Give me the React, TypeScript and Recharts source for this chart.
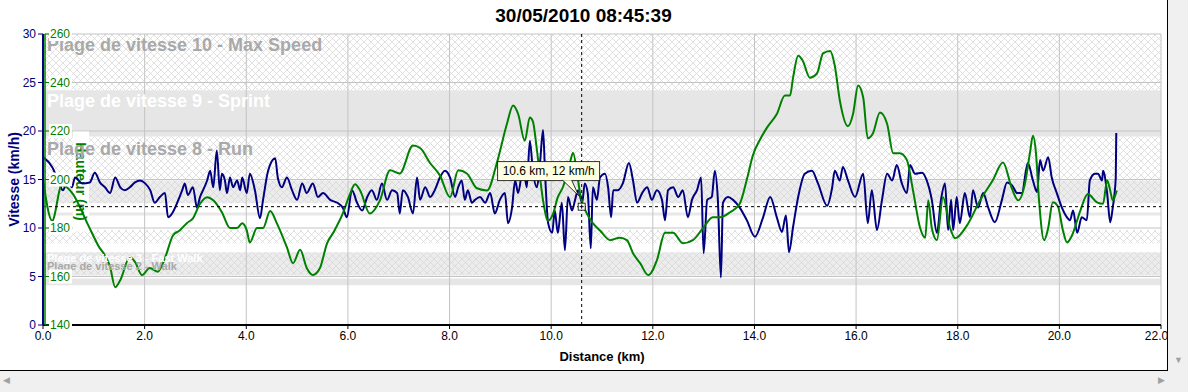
import React from 'react';
import { ComposedChart, Line, XAxis, YAxis, ReferenceArea, ReferenceLine, ReferenceDot, Text } from 'recharts';

document.body.style.margin = '0';

const FONT = '"Liberation Sans", Arial, Helvetica, sans-serif';
const NAVY = '#000080';
const GREEN = '#008000';

const title = '30/05/2010 08:45:39';
const altitudeLabel = 'Hauteur (m)';

const distanceTicks = [0, 2, 4, 6, 8, 10, 12, 14, 16, 18, 20, 22];
const speedTicks = [0, 5, 10, 15, 20, 25, 30];
const altitudeTicks = [140, 160, 180, 200, 220, 240, 260];

// [km, km/h]
const speedTrace: [number, number][] = [
  [0, 17.3], [0.18, 16.3], [0.3, 14.9], [0.39, 13.9], [0.49, 14.9], [0.57, 14.2], [0.63, 15.2], [0.77, 14.6],
  [0.92, 14.7], [1.02, 15.7], [1.12, 14.7], [1.22, 14.2], [1.32, 13.6], [1.42, 15.2], [1.52, 14.2], [1.61, 13.9],
  [1.71, 14.2], [1.81, 14.7], [1.91, 14.9], [2.01, 14.6], [2.11, 13.9], [2.2, 12.6], [2.3, 13.2], [2.4, 13.6],
  [2.46, 11.1], [2.54, 11.5], [2.64, 12.6], [2.74, 13.9], [2.79, 14.6], [2.85, 13.4], [2.95, 14.2], [3.03, 12.1],
  [3.09, 13.2], [3.15, 13.9], [3.23, 14.9], [3.29, 15.9], [3.35, 14.2], [3.42, 18.0], [3.48, 13.9], [3.52, 15.6],
  [3.58, 14.9], [3.62, 13.6], [3.68, 15.2], [3.74, 14.2], [3.82, 14.9], [3.88, 13.9], [3.92, 15.2], [4.01, 13.6],
  [4.07, 15.6], [4.17, 13.9], [4.27, 11.0], [4.33, 12.9], [4.43, 15.9], [4.57, 17.2], [4.62, 15.2], [4.7, 14.2],
  [4.8, 15.2], [4.9, 13.9], [5.0, 12.9], [5.1, 14.6], [5.19, 13.6], [5.31, 14.6], [5.41, 13.2], [5.51, 13.6],
  [5.65, 12.9], [5.79, 12.6], [5.9, 12.1], [5.98, 11.1], [6.08, 13.9], [6.18, 12.6], [6.28, 11.8], [6.38, 13.2],
  [6.47, 13.9], [6.57, 12.9], [6.67, 14.6], [6.77, 12.9], [6.87, 13.9], [6.97, 13.6], [7.02, 11.5], [7.08, 13.9],
  [7.18, 13.2], [7.28, 11.5], [7.36, 15.2], [7.42, 12.9], [7.52, 14.2], [7.62, 13.2], [7.71, 13.9], [7.81, 15.2],
  [7.91, 15.9], [8.01, 15.2], [8.11, 13.2], [8.17, 14.2], [8.24, 14.9], [8.3, 12.9], [8.36, 13.9], [8.44, 12.6],
  [8.5, 12.9], [8.6, 13.2], [8.7, 12.6], [8.8, 13.6], [8.89, 11.5], [8.99, 12.9], [9.09, 13.6], [9.15, 10.5],
  [9.23, 12.1], [9.29, 14.9], [9.35, 13.6], [9.45, 16.3], [9.52, 14.2], [9.58, 19.0], [9.64, 15.9], [9.72, 14.2],
  [9.78, 16.7], [9.84, 20.1], [9.88, 15.6], [9.94, 10.5], [10.02, 9.5], [10.07, 11.8], [10.13, 9.5], [10.21, 12.6],
  [10.27, 7.7], [10.33, 13.2], [10.41, 11.8], [10.47, 12.9], [10.53, 13.9], [10.61, 12.6], [10.66, 14.6], [10.72, 13.6],
  [10.78, 7.9], [10.82, 14.2], [10.9, 12.9], [10.96, 15.2], [11.06, 15.6], [11.12, 14.2], [11.18, 11.1], [11.22, 13.9],
  [11.31, 13.9], [11.41, 14.6], [11.53, 16.7], [11.61, 14.9], [11.69, 12.6], [11.79, 13.6], [11.89, 14.2], [11.98, 12.9],
  [12.08, 13.9], [12.18, 12.9], [12.24, 10.8], [12.3, 13.9], [12.4, 14.2], [12.5, 13.2], [12.59, 13.9], [12.69, 11.1],
  [12.77, 12.9], [12.87, 13.9], [12.95, 15.2], [13.0, 7.4], [13.07, 12.9], [13.16, 13.2], [13.22, 15.9], [13.28, 12.9],
  [13.34, 4.9], [13.38, 12.6], [13.48, 13.2], [13.58, 12.9], [13.71, 12.1], [13.85, 10.8], [14.01, 9.1], [14.17, 11.1],
  [14.31, 13.2], [14.44, 11.1], [14.54, 9.6], [14.62, 11.3], [14.68, 7.5], [14.76, 10.1], [14.86, 13.2], [14.99, 15.6],
  [15.13, 15.9], [15.25, 14.6], [15.43, 12.3], [15.53, 14.2], [15.58, 15.9], [15.68, 14.9], [15.74, 16.3], [15.84, 14.9],
  [15.98, 13.2], [16.14, 15.6], [16.23, 10.5], [16.31, 13.9], [16.41, 9.8], [16.51, 12.9], [16.61, 15.6], [16.71, 14.9],
  [16.8, 16.5], [16.9, 14.6], [17.0, 13.6], [17.06, 16.5], [17.16, 15.6], [17.3, 15.7], [17.39, 14.9], [17.49, 12.9],
  [17.59, 9.5], [17.67, 12.9], [17.75, 14.6], [17.81, 9.8], [17.87, 12.9], [17.91, 9.8], [17.98, 13.2], [18.04, 10.5],
  [18.14, 13.6], [18.24, 11.1], [18.3, 13.9], [18.4, 12.1], [18.5, 13.6], [18.6, 12.1], [18.73, 10.6], [18.87, 12.9],
  [18.97, 14.7], [19.07, 14.4], [19.17, 13.6], [19.26, 13.6], [19.38, 16.7], [19.48, 14.9], [19.56, 13.7], [19.62, 17.0],
  [19.68, 15.9], [19.78, 17.3], [19.85, 15.2], [19.95, 13.6], [20.05, 12.1], [20.15, 11.1], [20.21, 10.8], [20.27, 11.8],
  [20.35, 9.5], [20.44, 11.1], [20.54, 10.8], [20.6, 14.9], [20.7, 15.6], [20.76, 15.6], [20.84, 14.9], [20.86, 15.9],
  [20.94, 13.6], [21.0, 10.6], [21.05, 12.1], [21.11, 15.2], [21.12, 19.8],
];

// [km, m]
const altitudeTrace: [number, number][] = [
  [0, 200], [0.18, 183], [0.37, 197.6], [0.59, 194], [0.87, 182], [1.08, 173], [1.32, 164], [1.42, 155.6],
  [1.52, 158.5], [1.71, 168], [1.81, 166], [1.95, 160.6], [2.1, 163.5], [2.26, 162], [2.4, 167.6], [2.56, 177],
  [2.69, 179], [2.83, 182], [2.95, 184], [3.09, 190], [3.23, 192.7], [3.35, 191.4], [3.52, 186.5], [3.68, 180],
  [3.82, 180], [3.92, 182], [4.01, 179], [4.07, 174], [4.21, 180], [4.33, 180], [4.47, 187], [4.6, 182],
  [4.8, 172], [4.92, 165.5], [5.06, 171], [5.19, 163.5], [5.31, 160.6], [5.45, 163.5], [5.59, 173.7], [5.71, 178],
  [5.9, 186], [6.04, 194], [6.14, 198], [6.24, 195.5], [6.43, 186], [6.63, 191.4], [6.83, 203.8], [7.02, 202.5],
  [7.28, 214], [7.42, 213], [7.62, 206.7], [7.81, 201.7], [8.01, 192.7], [8.17, 203.8], [8.34, 202.5], [8.54, 196.4],
  [8.74, 195.5], [8.93, 206.7], [9.13, 223], [9.25, 230.5], [9.35, 227], [9.48, 216], [9.58, 225.6], [9.64, 224],
  [9.72, 212], [9.84, 191.4], [9.94, 183], [10.04, 186], [10.13, 192.7], [10.23, 196.8], [10.37, 207], [10.43, 211],
  [10.51, 202.5], [10.57, 194], [10.7, 186], [10.82, 182], [10.96, 179], [11.16, 175], [11.35, 176], [11.49, 175],
  [11.61, 169.6], [11.75, 165.5], [11.91, 160.6], [12.08, 166.7], [12.24, 178], [12.4, 178], [12.59, 173.7], [12.79, 175],
  [12.99, 180], [13.18, 184.4], [13.32, 184.4], [13.52, 186.5], [13.71, 190], [13.85, 200], [13.97, 210], [14.11, 216.5],
  [14.25, 221.5], [14.44, 227], [14.6, 234.6], [14.7, 234.6], [14.76, 242], [14.86, 251], [14.95, 249], [15.09, 242],
  [15.23, 243.7], [15.35, 252], [15.49, 253], [15.58, 247], [15.68, 232.6], [15.84, 222], [15.94, 227], [16.04, 238.8],
  [16.14, 233.8], [16.23, 217], [16.33, 219], [16.47, 227.6], [16.61, 223], [16.73, 210.8], [16.86, 210.8], [17.0, 208],
  [17.12, 195.5], [17.26, 180], [17.36, 176], [17.42, 191.4], [17.49, 180], [17.59, 175], [17.71, 192.7], [17.85, 180],
  [17.95, 175.8], [18.18, 181], [18.44, 191.4], [18.69, 199.7], [18.89, 207], [19.07, 196], [19.19, 191.4], [19.32, 198],
  [19.42, 210.8], [19.48, 218], [19.54, 210.8], [19.6, 191.4], [19.7, 175], [19.78, 180], [19.87, 190.6], [19.97, 189],
  [20.07, 179], [20.15, 174], [20.25, 177], [20.41, 187], [20.56, 194], [20.74, 190.6], [20.86, 190], [20.94, 199.7],
  [21.0, 195.5], [21.05, 191.4], [21.13, 195.5],
];

// speed zones, km/h
const zoneLow = [24.2, 19.4, 14.9, 12.55, 11.3, 8.4, 5.1, 4.1];
const zoneHigh = [30, 24.2, 19.4, 14.9, 11.6, 9.8, 7.5, 4.8];
const zoneFill = ['url(#hatch)', '#e6e6e6', 'url(#hatch)', 'url(#hatchGray)', '#e8e8e8', 'url(#hatch)', 'url(#hatchGray)', '#e6e6e6'];

const zoneLabels = [
  'Plage de vitesse 10 - Max Speed',
  'Plage de vitesse 9 - Sprint',
  'Plage de vitesse 8 - Run',
  'Plage de vitesse 3 - Fast Walk',
  'Plage de vitesse 2 - Walk',
];
const zoneLabelAt = [30, 24.2, 19.3, 7.75, 6.85];
const zoneLabelStyle = [
  { fill: '#a9a9a9', fontSize: 18 },
  { fill: '#ffffff', fontSize: 18 },
  { fill: '#a9a9a9', fontSize: 18 },
  { fill: '#ffffff', fontSize: 11 },
  { fill: '#a9a9a9', fontSize: 11 },
];

const cursorKm = 10.6;
const cursorKmh = 12.2;

const speedData = speedTrace.map(([km, kmh]) => ({ km, kmh }));
const altitudeData = altitudeTrace.map(([km, m]) => ({ km, m }));

const AltTick = (props: any) => {
  const { x, y, payload } = props;
  return (
    <g>
      <rect x={x} y={y - 7} width={23} height={14} fill="#fff" />
      <text x={x + 1} y={y} dy={4} fill={GREEN} fontSize={12} textAnchor="start">
        {payload.value}
      </text>
    </g>
  );
};

const AltitudeTitle = (props: any) => {
  const vb = props.viewBox;
  if (!vb) return null;
  const cx = vb.x + 38;
  const cy = vb.y + vb.height / 2 + 2;
  return (
    <g>
      <rect x={cx - 8} y={cy - 50} width={16} height={100} fill="#fff" />
      <Text
        x={cx}
        y={cy}
        angle={90}
        textAnchor="middle"
        verticalAnchor="middle"
        fill={GREEN}
        fontSize={14}
        fontWeight="bold"
      >
        {altitudeLabel}
      </Text>
    </g>
  );
};

const CursorTip = (props: any) => {
  const { cx, cy } = props;
  if (cx == null || cy == null) return null;
  const text = `${cursorKm} km, ${Math.round(cursorKmh)} km/h`;
  return (
    <g>
      <rect x={cx - 84} y={cy - 45} width={102} height={19} fill="#ffffe1" stroke="#000" strokeWidth={0.8} />
      <path
        d={`M${cx - 19},${cy - 26.4} L${cx - 3},${cy - 11} L${cx - 10},${cy - 26.4}`}
        fill="#ffffe1"
        stroke="#000"
        strokeWidth={0.8}
      />
      <text x={cx - 33} y={cy - 35.5} dy={4} textAnchor="middle" fontSize={12} fill="#000">
        {text}
      </text>
      <rect x={cx - 3.5} y={cy - 3.5} width={7} height={7} fill="#fff" stroke="#000" strokeWidth={0.8} />
      <line x1={cx - 2} x2={cx + 2} y1={cy} y2={cy} stroke="#000" strokeWidth={1} />
      <line x1={cx} x2={cx} y1={cy - 2} y2={cy + 2} stroke="#000" strokeWidth={1} />
    </g>
  );
};

export default function App() {
  return (
    <div style={{ position: 'relative', width: 1188, height: 392, background: '#f0f0f0', fontFamily: FONT, overflow: 'hidden' }}>
      <div
        style={{
          position: 'absolute', left: 0, top: 0, width: 1167, height: 370, background: '#fff',
          borderRight: '1px solid #000', borderBottom: '1px solid #000',
        }}
      >
        <ComposedChart width={1167} height={370} margin={{ top: 34, right: 6, bottom: 7, left: 0 }}>
          <defs>
            <pattern id="hatch" width="7" height="7" patternUnits="userSpaceOnUse">
              <rect width="7" height="7" fill="#ffffff" />
              <path d="M0,0 L7,7 M7,0 L0,7" stroke="#d4d4d4" strokeWidth="0.7" />
            </pattern>
            <pattern id="hatchGray" width="7" height="7" patternUnits="userSpaceOnUse">
              <rect width="7" height="7" fill="#ececec" />
              <path d="M0,0 L7,7 M7,0 L0,7" stroke="#d6d6d6" strokeWidth="0.7" />
            </pattern>
          </defs>

          {zoneLow.map((lo, i) => (
            <ReferenceArea
              key={`zone-${i}`}
              yAxisId="speed"
              y1={lo}
              y2={zoneHigh[i]}
              fill={zoneFill[i]}
              fillOpacity={1}
              stroke="none"
              ifOverflow="visible"
            />
          ))}

          {distanceTicks.slice(1).map((d) => (
            <ReferenceLine key={`gx-${d}`} yAxisId="speed" x={d} stroke="#c4c4c4" strokeWidth={1} />
          ))}
          {speedTicks.slice(1).map((s) => (
            <ReferenceLine key={`gy-${s}`} yAxisId="speed" y={s} stroke="#c4c4c4" strokeWidth={1} />
          ))}

          {zoneLabels.map((txt, i) => (
            <ReferenceLine
              key={`lbl-${i}`}
              yAxisId="speed"
              y={zoneLabelAt[i]}
              stroke="none"
              label={{
                value: txt,
                position: 'insideTopLeft',
                offset: 4,
                fill: zoneLabelStyle[i].fill,
                fontSize: zoneLabelStyle[i].fontSize,
                fontWeight: 'bold',
              }}
            />
          ))}

          <ReferenceLine yAxisId="speed" x={0} stroke="none" label={AltitudeTitle} />

          <XAxis
            dataKey="km"
            type="number"
            domain={[0, 22]}
            ticks={distanceTicks}
            allowDataOverflow
            tickFormatter={(v: number) => v.toFixed(1)}
            height={38}
            axisLine={{ stroke: '#000', strokeWidth: 2 }}
            tickLine={{ stroke: '#000' }}
            tickSize={4}
            tickMargin={2}
            tick={{ fill: '#000', fontSize: 12 }}
            label={{ value: 'Distance (km)', position: 'insideBottom', offset: 2, fill: '#000', fontSize: 13, fontWeight: 'bold' }}
          />
          <YAxis
            yAxisId="speed"
            orientation="left"
            width={43}
            domain={[0, 30]}
            ticks={speedTicks}
            allowDataOverflow
            axisLine={{ stroke: NAVY, strokeWidth: 2 }}
            tickLine={{ stroke: NAVY }}
            tickSize={5}
            tickMargin={2}
            tick={{ fill: NAVY, fontSize: 12 }}
            label={{ value: 'Vitesse (km/h)', angle: -90, position: 'center', dx: -7, fill: NAVY, fontSize: 14, fontWeight: 'bold' }}
          />
          <YAxis
            yAxisId="alt"
            orientation="left"
            mirror
            width={30}
            domain={[140, 260]}
            ticks={altitudeTicks}
            allowDataOverflow
            axisLine={{ stroke: GREEN, strokeWidth: 1.5, transform: 'translate(2,0)' }}
            tickLine={{ stroke: GREEN, transform: 'translate(2,0)' }}
            tickSize={4}
            tickMargin={2}
            tick={AltTick}
          />

          <Line
            data={speedData}
            yAxisId="speed"
            dataKey="kmh"
            type="monotone"
            stroke={NAVY}
            strokeWidth={2}
            dot={false}
            isAnimationActive={false}
          />
          <Line
            data={altitudeData}
            yAxisId="alt"
            dataKey="m"
            type="monotone"
            stroke={GREEN}
            strokeWidth={2}
            dot={false}
            isAnimationActive={false}
          />

          <ReferenceLine yAxisId="speed" x={cursorKm} stroke="#000" strokeDasharray="3 3" strokeWidth={1} />
          <ReferenceLine yAxisId="speed" y={cursorKmh} stroke="#000" strokeDasharray="3 3" strokeWidth={1} />
          <ReferenceDot yAxisId="speed" x={cursorKm} y={cursorKmh} r={4} shape={CursorTip} />
        </ComposedChart>

        <div
          style={{
            position: 'absolute', left: 0, top: 6, width: 1167, textAlign: 'center',
            fontSize: 19, fontWeight: 'bold', color: '#000', lineHeight: '20px',
          }}
        >
          {title}
        </div>
      </div>
      <div style={{ position: 'absolute', left: 3, top: 375, fontSize: 9, color: '#a0a0a0' }}>◀</div>
      <div style={{ position: 'absolute', left: 1158, top: 375, fontSize: 9, color: '#a0a0a0' }}>▶</div>
      <div style={{ position: 'absolute', left: 1174, top: 355, fontSize: 9, color: '#a0a0a0' }}>▼</div>
    </div>
  );
}
